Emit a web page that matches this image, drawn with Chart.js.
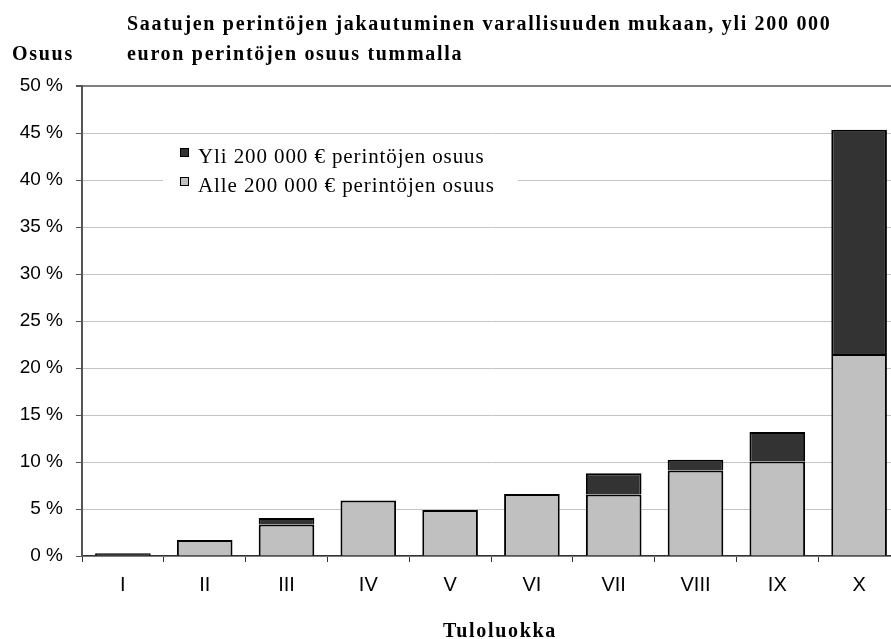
<!DOCTYPE html>
<html>
<head>
<meta charset="utf-8">
<script src="https://cdn.jsdelivr.net/npm/chart.js@4/dist/chart.umd.min.js"></script>
<style>
  html, body { margin: 0; padding: 0; background: #fff; overflow: hidden; }
</style>
</head>
<body>
<canvas id="perinnot" width="902" height="639"></canvas>
<script>
// data (share of inheritances, %)
const categories = ["I", "II", "III", "IV", "V", "VI", "VII", "VIII", "IX", "X"];
const alleValues = [0.1, 1.7, 3.35, 5.9, 4.9, 6.6, 6.55, 9.1, 10.05, 21.5];
const yliValues = [0.2, 0, 0.7, 0, 0, 0, 2.25, 1.15, 3.15, 23.85];
const yTicks = [0, 5, 10, 15, 20, 25, 30, 35, 40, 45, 50];

const titleLines = [
  "Saatujen perintöjen jakautuminen varallisuuden mukaan, yli 200 000",
  "euron perintöjen osuus tummalla",
];
const yTitle = "Osuus";
const xTitle = "Tuloluokka";
const alleLabel = "Alle 200 000 € perintöjen osuus";
const yliLabel = "Yli 200 000 € perintöjen osuus";

// titles + legend box drawn straight on the canvas (excel-style layout)
const sheetText = {
  id: "sheetText",
  afterDraw(chart) {
    const ctx = chart.ctx;
    ctx.save();
    ctx.fillStyle = "#000";
    ctx.textBaseline = "alphabetic";
    ctx.textAlign = "left";
    ctx.letterSpacing = "1.7px";
    ctx.font = 'bold 20px "Liberation Serif", "Times New Roman", serif';
    ctx.fillText(titleLines[0], 127, 30);
    ctx.fillText(titleLines[1], 127, 60);
    ctx.fillText(yTitle, 12, 60);
    ctx.textAlign = "center";
    ctx.fillText(xTitle, 500, 637);

    // legend, top item = top of the stack
    ctx.fillStyle = "#fff";
    ctx.fillRect(163, 138, 355, 82);
    ctx.textAlign = "left";
    ctx.letterSpacing = "0.9px";
    ctx.font = '21px "Liberation Serif", "Times New Roman", serif';
    const items = chart.data.datasets.slice().reverse();
    items.forEach((ds, i) => {
      const y = 148 + i * 29;
      ctx.fillStyle = ds.backgroundColor;
      ctx.fillRect(180, y, 9, 9);
      ctx.strokeStyle = "#000";
      ctx.lineWidth = 1;
      ctx.strokeRect(180.5, y + 0.5, 8, 8);
      ctx.fillStyle = "#000";
      ctx.fillText(ds.label, 198, y + 15);
    });
    ctx.restore();
  },
};

new Chart(document.getElementById("perinnot"), {
  type: "bar",
  data: {
    labels: categories,
    datasets: [
      {
        label: alleLabel,
        data: alleValues,
        backgroundColor: "#c0c0c0",
        borderColor: "#000",
        borderWidth: 2,
      },
      {
        label: yliLabel,
        data: yliValues,
        backgroundColor: "#333333",
        borderColor: "#000",
        borderWidth: 2,
      },
    ],
  },
  options: {
    responsive: false,
    animation: false,
    layout: { padding: { top: 86, left: 0, right: 2, bottom: 0 } },
    datasets: { bar: { categoryPercentage: 1, barPercentage: 0.68 } },
    plugins: {
      legend: { display: false },
      title: { display: false },
      tooltip: { enabled: false },
    },
    scales: {
      x: {
        stacked: true,
        afterFit: (scale) => { scale.height = 83; },
        grid: {
          offset: true,
          drawOnChartArea: false,
          drawTicks: true,
          tickLength: 6,
          tickColor: "#333",
        },
        border: { color: "#333", width: 1.5 },
        ticks: {
          color: "#000",
          padding: 11,
          font: { family: '"Liberation Sans", Arial, sans-serif', size: 20 },
        },
      },
      y: {
        stacked: true,
        min: 0,
        max: 50,
        afterFit: (scale) => { scale.width = 82; },
        afterBuildTicks: (scale) => {
          scale.ticks = yTicks.map((v) => ({ value: v }));
        },
        grid: {
          color: (c) => (c.tick && c.tick.value === 50 ? "#808080" : "#c4c4c4"),
          lineWidth: (c) => (c.tick && c.tick.value === 50 ? 2 : 1),
          tickLength: 6,
          tickColor: "#555",
        },
        border: { color: "#555", width: 2 },
        ticks: {
          color: "#000",
          padding: 13,
          font: { family: '"Liberation Sans", Arial, sans-serif', size: 19 },
          callback: (v) => v + " %",
        },
      },
    },
  },
  plugins: [sheetText],
});
</script>
</body>
</html>
